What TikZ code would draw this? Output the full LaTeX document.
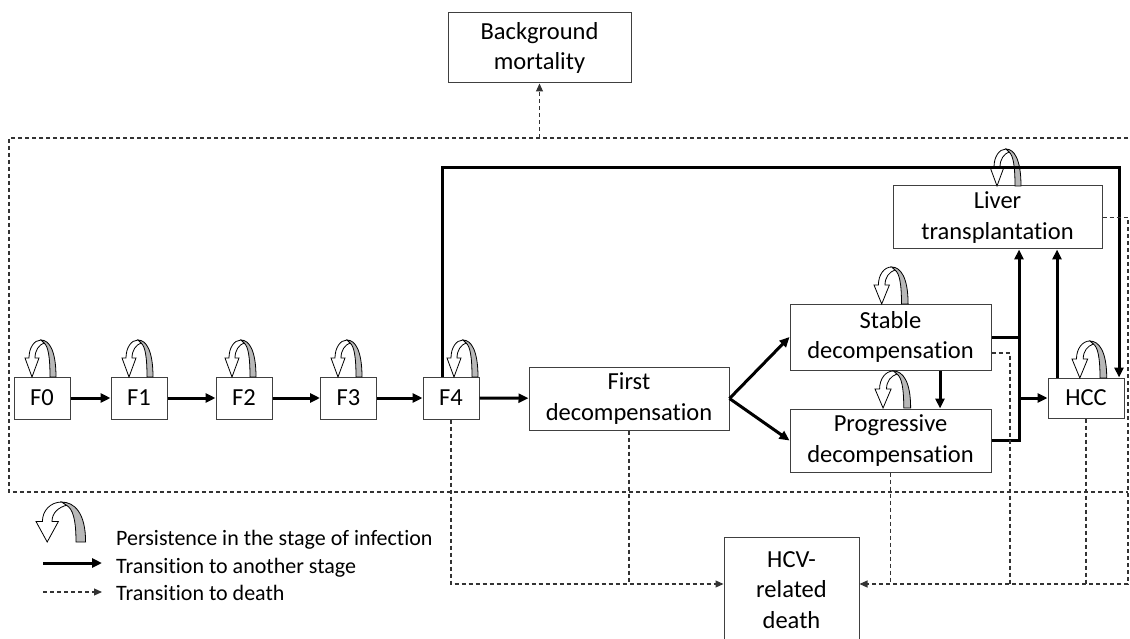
\documentclass[tikz,border=0pt]{standalone}
\usepackage{fontspec}
\setmainfont{Carlito}[Ligatures=NoCommon]
\usetikzlibrary{arrows.meta}
\tikzset{
  persist/.pic={
    \filldraw[fill=black!28,draw=black,line width=0.8pt]
      (25,0) -- (31,0) .. controls (31,-27) and (24,-37) .. (16,-37)
      -- (19,-34) .. controls (23,-31) and (25,-21) .. (25,0) -- cycle;
    \filldraw[fill=white,draw=black,line width=0.8pt]
      (16,-37) .. controls (9,-37) and (4,-29) .. (4,-19) -- (0,-19) -- (7,0)
      -- (14,-19) -- (10,-19) .. controls (10,-27) and (14,-32) .. (19,-34) -- cycle;
  }
}

\begin{document}
\begin{tikzpicture}[x=1pt,y=-1pt]
	\useasboundingbox (0,0) rectangle (1130,639);

	\begin{scope}[every node/.style={draw=black!75,line width=1pt,inner sep=0pt,
	              align=center,font=\fontsize{24.5}{30.5}\selectfont}]
	    \node[minimum width=183pt,minimum height=70pt] (bm) at (539.5,48) {Background\\mortality};
	    \foreach \n/\x in {0/42,1/139,2/244,3/348.5,4/451}
	        \node[minimum width=56pt,minimum height=42pt] (f\n) at (\x,398) {F\n};
	    \node[minimum width=200pt,minimum height=63pt] (fd) at (629,398.5) {First\\decompensation};
	    \node[minimum width=201pt,minimum height=66pt] (sd) at (890.5,337) {Stable\\decompensation};
	    \node[minimum width=201pt,minimum height=63pt] (pd) at (890.5,440.5) {Progressive\\decompensation};
	    \node[minimum width=209pt,minimum height=63pt] (lt) at (997.5,217.5) {Liver\\transplantation};
	    \node[minimum width=76pt,minimum height=40pt] (hcc) at (1086,398) {HCC};
	    \node[minimum width=135pt,minimum height=106pt] (hcv) at (791.5,590) {HCV-\\related\\death};
	\end{scope}

	% persistence loops
	\foreach \x in {25,122,225,331,447}
	    \pic at (\x,377) {persist};
	\pic[xscale=1.1] at (874,304) {persist};
	\pic[xscale=1.15] at (875,408) {persist};
	\pic at (990,186) {persist};
	\pic[xscale=1.12] at (1072,378) {persist};

	\coordinate (jx) at (1019,0);
	\coordinate (ceil) at (0,168);
	\coordinate (dy) at (0,584);
	\coordinate (rx) at (1128,0);
	\coordinate (sx) at (1010,0);

	\begin{scope}[trans/.style={line width=3pt,-{Triangle[length=10pt,width=9pt]}},
	              plain/.style={line width=3pt}]
	    \foreach \a/\b in {f0/f1,f1/f2,f2/f3,f3/f4,f4/fd}
	        \draw[trans] (\a) -- (\b);
	    \draw[trans] (fd.east) -- (sd.west);
	    \draw[trans] (fd.east) -- (pd.west);
	    \draw[trans] ([xshift=49.5pt]sd.south) -- ([xshift=49.5pt]pd.north);
	    \draw[trans] (sd.east) -| (jx |- lt.south);
	    \draw[plain] (pd.east) -| (jx |- sd.east);
	    \draw[trans] (jx |- hcc.west) -- (hcc.west);
	    \draw[trans] ([xshift=-29pt]hcc.north) -- ([xshift=-29pt]hcc.north |- lt.south);
	    \draw[trans] ([xshift=-9pt]f4.north) |- ([xshift=33pt]hcc.north |- ceil) -- ([xshift=33pt]hcc.north);
	\end{scope}

	\begin{scope}[death/.style={draw=black!80,line width=1.1pt,dash pattern=on 4pt off 3pt},
	              dtip/.style={-{Triangle[length=8pt,width=7pt]}}]
	    % frame of the living states
	    \draw[death] (1128,138) -- (9,138) -- (9,492) -- (1128,492);
	    \draw[death,dtip] (bm.south |- 0,138) -- (bm.south);
	    \draw[death,dtip] (f4.south) |- (hcv.west |- dy);
	    \draw[death] (fd.south) -- (fd.south |- dy);
	    \draw[death,dtip] (lt.east) -| (rx |- dy) -- (hcv.east |- dy);
	    \draw[death] ([yshift=-16pt]sd.east) -| (sx |- dy);
	    \draw[death] (pd.south) -- (pd.south |- dy);
	    \draw[death] (hcc.south) -- (hcc.south |- dy);
	\end{scope}

	% legend
	\coordinate (la) at (43,563);
	\coordinate (lb) at (102,563);
	\coordinate (lc) at (43,592);
	\coordinate (ld) at (102,592);
	\pic[xscale=1.6,yscale=1.08] at (36,542) {persist};
	\draw[line width=3pt,-{Triangle[length=10pt,width=9pt]}] (la) -- (lb);
	\draw[draw=black!80,line width=1.1pt,dash pattern=on 4pt off 3pt,-{Triangle[length=8pt,width=7pt]}] (lc) -- (ld);
	\begin{scope}[every node/.style={anchor=base west,inner sep=0pt,font=\fontsize{22}{26}\selectfont}]
	    \node (l1) at (116,545) {Persistence in the stage of infection};
	    \node (l2) at (116,573) {Transition to another stage};
	    \node (l3) at (116,600) {Transition to death};
	\end{scope}
\end{tikzpicture}
\end{document}
